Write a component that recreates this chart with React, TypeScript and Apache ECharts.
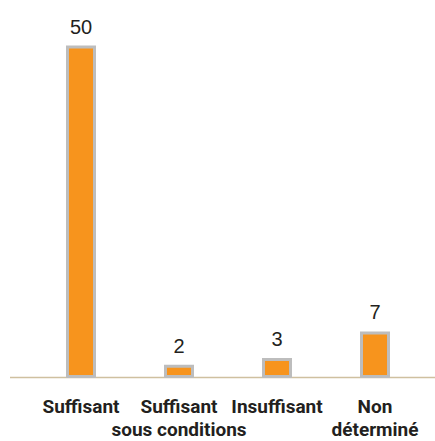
import React, { useEffect, useRef } from "react";
import * as echarts from "echarts";

// Category labels (two-line labels use "\n")
const categories: string[] = [
  "Suffisant",
  "Suffisant\nsous conditions",
  "Insuffisant",
  "Non\ndéterminé",
];

// Counts per category
const counts: number[] = [50, 2, 3, 7];

const BAR_FILL = "#f7941d";
const BAR_BORDER = "#bdbdbd";
const BASELINE = "#cfc0a0";
const TEXT = "#231f20";

// Baseline position measured from the top of the chart area
const BASELINE_Y = 378;

export default function App() {
  const ref = useRef<HTMLDivElement>(null);

  useEffect(() => {
    if (!ref.current) return;
    const chart = echarts.init(ref.current, null, { renderer: "svg" });

    const h = chart.getHeight();
    const w = chart.getWidth();
    const gridBottom = h - BASELINE_Y;

    chart.setOption({
      animation: false,
      backgroundColor: "#ffffff",
      grid: {
        left: 32,
        right: 11,
        top: 45.5,
        bottom: gridBottom,
        containLabel: false,
        outerBoundsMode: "none",
      },
      xAxis: {
        type: "category",
        data: categories,
        axisLine: { show: false },
        axisTick: { show: false },
        axisLabel: {
          interval: 0,
          margin: 17,
          color: TEXT,
          fontSize: 19,
          fontWeight: "bold",
          lineHeight: 23,
          fontFamily: "Roboto, 'Liberation Sans', sans-serif",
        },
      },
      yAxis: {
        type: "value",
        min: 0,
        max: 50,
        show: false,
        splitLine: { show: false },
      },
      series: [
        {
          type: "bar",
          data: counts,
          barWidth: 30,
          itemStyle: {
            color: BAR_FILL,
            borderColor: BAR_BORDER,
            borderWidth: 3,
          },
          label: {
            show: true,
            position: "top",
            distance: 9,
            color: TEXT,
            fontSize: 20,
            fontFamily: "'Liberation Sans', Arial, sans-serif",
          },
          z: 2,
        },
      ],
      graphic: [
        {
          type: "line",
          z: 1,
          shape: { x1: 10, y1: BASELINE_Y - 0.5, x2: w, y2: BASELINE_Y - 0.5 },
          style: { stroke: BASELINE, lineWidth: 1.5 },
        },
      ],
    });

    return () => chart.dispose();
  }, []);

  return (
    <div
      ref={ref}
      style={{ position: "fixed", left: 0, top: 0, width: 435, height: 441, background: "#fff" }}
    />
  );
}
